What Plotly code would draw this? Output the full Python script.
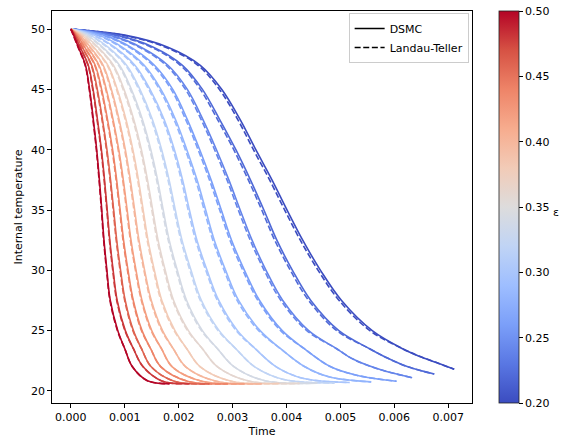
import numpy as np
import plotly.graph_objects as go
from plotly.colors import sample_colorscale

# --- Data (time in ms, temperature in model units) ----
EPS = [0.20, 0.22, 0.24, 0.26, 0.28, 0.30, 0.32, 0.34,
       0.36, 0.38, 0.40, 0.42, 0.44, 0.46, 0.48, 0.50]

# temperature levels shared by every curve, then three tail points per curve
LEVELS = [50, 49.5, 48.5, 47, 45, 42.5, 40, 37.5, 35, 32.5, 30, 27.5, 25, 23.5]
TAIL_T = [
    [22.9, 22.35, 21.8], [22.75, 22.0, 21.4], [22.6, 21.75, 21.1], [22.0, 21.3, 20.8],
    [22.0, 21.15, 20.75], [22.0, 21.05, 20.7], [22.0, 20.95, 20.67], [22.0, 20.85, 20.65],
    [22.0, 20.82, 20.63], [22.0, 20.8, 20.62], [22.0, 20.8, 20.6], [22.0, 20.8, 20.6],
    [22.0, 20.78, 20.6], [22.0, 20.78, 20.6], [22.0, 20.8, 20.6], [22.0, 20.85, 20.6],
]

# DSMC: time (ms) at each level, then the three tail points
DSMC_MS = [
    [0, 1.000, 1.800, 2.400, 2.800, 3.140, 3.430, 3.730, 4.010, 4.300, 4.630, 5.020, 5.590, 6.152, 6.45, 6.78, 7.11],
    [0, 0.850, 1.530, 2.070, 2.440, 2.760, 3.060, 3.330, 3.580, 3.820, 4.110, 4.450, 4.970, 5.54, 5.86, 6.25, 6.74],
    [0, 0.720, 1.300, 1.800, 2.160, 2.450, 2.700, 2.930, 3.140, 3.360, 3.620, 3.930, 4.410, 4.93, 5.25, 5.75, 6.33],
    [0, 0.610, 1.110, 1.550, 1.890, 2.160, 2.390, 2.600, 2.790, 2.980, 3.220, 3.500, 3.920, 4.33, 4.82, 5.30, 6.04],
    [0, 0.510, 0.950, 1.360, 1.670, 1.940, 2.150, 2.340, 2.500, 2.660, 2.870, 3.110, 3.510, 3.89, 4.34, 4.80, 5.57],
    [0, 0.427, 0.809, 1.187, 1.468, 1.730, 1.920, 2.072, 2.199, 2.338, 2.526, 2.743, 3.090, 3.42, 3.81, 4.30, 5.17],
    [0, 0.356, 0.689, 1.033, 1.281, 1.512, 1.684, 1.822, 1.937, 2.061, 2.229, 2.422, 2.750, 3.06, 3.41, 3.95, 4.89],
    [0, 0.297, 0.588, 0.902, 1.122, 1.327, 1.483, 1.608, 1.713, 1.824, 1.974, 2.147, 2.440, 2.72, 3.03, 3.60, 4.57],
    [0, 0.247, 0.502, 0.789, 0.985, 1.166, 1.308, 1.421, 1.518, 1.617, 1.750, 1.906, 2.180, 2.44, 2.72, 3.30, 4.24],
    [0, 0.204, 0.426, 0.688, 0.861, 1.022, 1.150, 1.253, 1.341, 1.430, 1.549, 1.687, 1.930, 2.15, 2.40, 2.98, 3.87],
    [0, 0.167, 0.361, 0.599, 0.752, 0.894, 1.010, 1.103, 1.183, 1.263, 1.368, 1.492, 1.700, 1.90, 2.13, 2.70, 3.54],
    [0, 0.136, 0.306, 0.522, 0.657, 0.783, 0.888, 0.972, 1.044, 1.115, 1.209, 1.319, 1.500, 1.68, 1.88, 2.43, 3.22],
    [0, 0.110, 0.256, 0.451, 0.570, 0.680, 0.774, 0.849, 0.914, 0.977, 1.060, 1.158, 1.320, 1.48, 1.67, 2.18, 2.91],
    [0, 0.087, 0.212, 0.386, 0.490, 0.586, 0.669, 0.736, 0.794, 0.850, 0.922, 1.008, 1.160, 1.31, 1.49, 1.93, 2.57],
    [0, 0.067, 0.172, 0.323, 0.412, 0.493, 0.566, 0.624, 0.674, 0.722, 0.784, 0.858, 1.010, 1.16, 1.34, 1.70, 2.20],
    [0, 0.050, 0.139, 0.271, 0.347, 0.416, 0.479, 0.529, 0.573, 0.614, 0.668, 0.731, 0.870, 1.00, 1.142, 1.42, 1.83],
]
# Landau-Teller model, same layout (runs a hair ahead of DSMC mid-relaxation)
LT_MS = [
    [0, 0.956, 1.756, 2.356, 2.756, 3.096, 3.386, 3.686, 3.966, 4.256, 4.586, 4.976, 5.546, 6.152, 6.45, 6.78, 7.11],
    [0, 0.811, 1.491, 2.031, 2.401, 2.721, 3.021, 3.291, 3.541, 3.781, 4.071, 4.411, 4.931, 5.54, 5.86, 6.25, 6.74],
    [0, 0.686, 1.266, 1.766, 2.126, 2.416, 2.666, 2.896, 3.106, 3.326, 3.586, 3.896, 4.376, 4.93, 5.25, 5.75, 6.33],
    [0, 0.580, 1.080, 1.520, 1.860, 2.130, 2.360, 2.570, 2.760, 2.950, 3.190, 3.470, 3.890, 4.33, 4.82, 5.30, 6.04],
    [0, 0.483, 0.923, 1.333, 1.643, 1.913, 2.123, 2.313, 2.473, 2.633, 2.843, 3.083, 3.483, 3.89, 4.34, 4.80, 5.57],
    [0, 0.403, 0.785, 1.163, 1.444, 1.706, 1.896, 2.048, 2.175, 2.314, 2.502, 2.719, 3.066, 3.42, 3.81, 4.30, 5.17],
    [0, 0.335, 0.668, 1.012, 1.260, 1.491, 1.663, 1.801, 1.916, 2.040, 2.208, 2.401, 2.729, 3.06, 3.41, 3.95, 4.89],
    [0, 0.278, 0.569, 0.883, 1.103, 1.308, 1.464, 1.589, 1.694, 1.805, 1.955, 2.128, 2.421, 2.72, 3.03, 3.60, 4.57],
    [0, 0.230, 0.485, 0.772, 0.968, 1.149, 1.291, 1.404, 1.501, 1.600, 1.733, 1.889, 2.163, 2.44, 2.72, 3.30, 4.24],
    [0, 0.189, 0.411, 0.673, 0.846, 1.007, 1.135, 1.238, 1.326, 1.415, 1.534, 1.672, 1.915, 2.15, 2.40, 2.98, 3.87],
    [0, 0.154, 0.348, 0.586, 0.739, 0.881, 0.997, 1.090, 1.170, 1.250, 1.355, 1.479, 1.687, 1.90, 2.13, 2.70, 3.54],
    [0, 0.125, 0.295, 0.511, 0.646, 0.772, 0.877, 0.961, 1.033, 1.104, 1.198, 1.308, 1.489, 1.68, 1.88, 2.43, 3.22],
    [0, 0.100, 0.246, 0.441, 0.560, 0.670, 0.764, 0.839, 0.904, 0.967, 1.050, 1.148, 1.310, 1.48, 1.67, 2.18, 2.91],
    [0, 0.078, 0.203, 0.377, 0.481, 0.577, 0.660, 0.727, 0.785, 0.841, 0.913, 0.999, 1.151, 1.31, 1.49, 1.93, 2.57],
    [0, 0.060, 0.165, 0.316, 0.405, 0.486, 0.559, 0.617, 0.667, 0.715, 0.777, 0.851, 1.003, 1.16, 1.34, 1.70, 2.20],
    [0, 0.044, 0.133, 0.265, 0.341, 0.410, 0.473, 0.523, 0.567, 0.608, 0.662, 0.725, 0.864, 1.00, 1.142, 1.42, 1.83],
]

X_TICKS = [0, 0.001, 0.002, 0.003, 0.004, 0.005, 0.006, 0.007]
Y_TICKS = [20, 25, 30, 35, 40, 45, 50]
CB_TICKS = [0.20, 0.25, 0.30, 0.35, 0.40, 0.45, 0.50]

# matplotlib "coolwarm"
COOLWARM = [
    [0.0, "#3b4cc0"], [0.1, "#5977e3"], [0.2, "#7b9ff9"], [0.3, "#9ebeff"],
    [0.4, "#c0d4f5"], [0.5, "#dddcdc"], [0.6, "#f2cbb7"], [0.7, "#f7ac8e"],
    [0.8, "#ee8468"], [0.9, "#d65244"], [1.0, "#b40426"],
]

FONT = "DejaVu Sans, sans-serif"
EPS_MIN, EPS_MAX = 0.20, 0.50
DASH = "6px,2.6px"


def main():
    fig = go.Figure()
    colors = sample_colorscale(COOLWARM, [(e - EPS_MIN) / (EPS_MAX - EPS_MIN) for e in EPS])

    for i, eps in enumerate(EPS):
        temps = LEVELS + TAIL_T[i]
        for times, dash in ((DSMC_MS[i], "solid"), (LT_MS[i], DASH)):
            fig.add_trace(go.Scatter(
                x=np.array(times) / 1000.0, y=temps, mode="lines",
                line=dict(color=colors[i], width=1.6, dash=dash, shape="spline", smoothing=1.0),
                showlegend=False, hoverinfo="skip",
            ))

    # legend entries
    fig.add_trace(go.Scatter(x=[None], y=[None], mode="lines", name="DSMC",
                             line=dict(color="black", width=1.6)))
    fig.add_trace(go.Scatter(x=[None], y=[None], mode="lines", name="Landau-Teller",
                             line=dict(color="black", width=1.6, dash=DASH)))

    # colorbar carrier
    fig.add_trace(go.Scatter(
        x=[None], y=[None], mode="markers", showlegend=False,
        marker=dict(colorscale=COOLWARM, cmin=EPS_MIN, cmax=EPS_MAX, color=[EPS_MIN],
                    showscale=True,
                    colorbar=dict(x=1.064, xanchor="left", xpad=0, ypad=0,
                                  y=0.5, yanchor="middle", len=1.0, thickness=20,
                                  outlinewidth=0.8, outlinecolor="#222",
                                  tickvals=CB_TICKS, tickformat=".2f",
                                  ticks="outside", ticklen=4, tickwidth=0.8, tickcolor="black",
                                  tickfont=dict(family=FONT, size=11, color="black"))),
    ))

    fig.add_annotation(text="ε", xref="paper", yref="paper", x=1.189, y=0.486,
                       xanchor="left", yanchor="middle", showarrow=False,
                       font=dict(family=FONT, size=11, color="black"))

    axis = dict(showline=True, linecolor="black", linewidth=0.8, mirror=True,
                ticks="outside", ticklen=4, tickwidth=0.8, tickcolor="black",
                showgrid=False, zeroline=False, automargin=False,
                tickfont=dict(family=FONT, size=11, color="black"))
    fig.update_xaxes(axis, range=[-0.00035, 0.00744], tickvals=X_TICKS, tickformat=".3f",
                     title=dict(text="Time", font=dict(family=FONT, size=11, color="black"),
                                standoff=4))
    fig.update_yaxes(axis, range=[19.0, 51.5], tickvals=Y_TICKS,
                     title=dict(text="Internal temperature",
                                font=dict(family=FONT, size=11, color="black"), standoff=6))

    fig.update_layout(
        width=561, height=440,
        margin=dict(l=52, r=87, t=11, b=37),
        plot_bgcolor="white", paper_bgcolor="white",
        font=dict(family=FONT, size=11, color="black"),
        legend=dict(x=0.992, xanchor="right", y=0.995, yanchor="top",
                    bgcolor="white", bordercolor="#cccccc", borderwidth=1,
                    font=dict(family=FONT, size=11, color="black"),
                    itemwidth=30, tracegroupgap=0),
    )
    # page body has a default 8px margin; drop it so the figure sits at (0, 0)
    fig.write_html("out.html", config={"displayModeBar": False},
                   post_script="document.body.style.margin='0';document.body.style.overflow='hidden';")


if __name__ == "__main__":
    main()
